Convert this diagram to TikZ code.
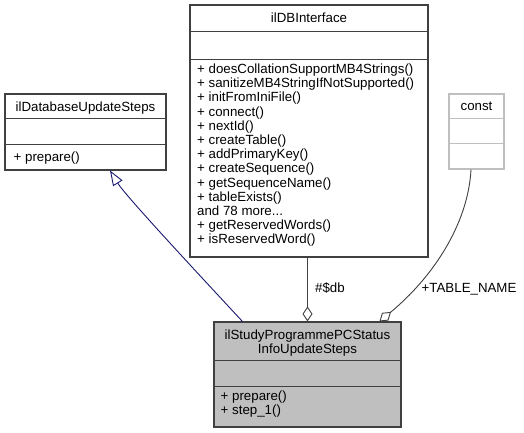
\documentclass[tikz,border=0pt]{standalone}
\usepackage{fontspec}
\setmainfont{Liberation Sans}
\usetikzlibrary{arrows.meta}
\definecolor{edgegray}{HTML}{404040}
\definecolor{boxfill}{HTML}{BFBFBF}
\definecolor{lightborder}{HTML}{BFBFBF}
\definecolor{navyblue}{HTML}{191970}
\newcommand{\threedots}{...}
\begin{document}
\begin{tikzpicture}[x=1pt,y=-1pt,
  box/.style={draw=edgegray, line width=1.1pt, inner sep=0pt, fill=white},
  txt/.style={inner sep=0pt, font=\fontsize{13.3}{14}\selectfont},
  sepline/.style={draw=edgegray, line width=1.1pt},
  edge/.style={draw=edgegray, line width=0.9pt},
  inherit/.style={draw=navyblue, line width=0.9pt},
  agg/.style={-{Diamond[open, length=15pt, width=10pt, line width=0.9pt]}},
]
\useasboundingbox[fill=white] (0,0) rectangle (524,433);

% ilDatabaseUpdateSteps
\node[box, minimum width=161pt, minimum height=76pt] (A) at (85.5,132) {};
\draw[sepline] ([yshift=-25pt]A.north west) -- ([yshift=-25pt]A.north east);
\draw[sepline] ([yshift=-51pt]A.north west) -- ([yshift=-51pt]A.north east);
\node[txt, anchor=base] (At) at (85.5,111) {ilDatabaseUpdateSteps};
\node[txt, anchor=base west] (Am) at (13.5,161.5) {+ prepare()};

% ilDBInterface
\node[box, minimum width=238pt, minimum height=252pt] (B) at (309,131) {};
\draw[sepline] ([yshift=-27pt]B.north west) -- ([yshift=-27pt]B.north east);
\draw[sepline] ([yshift=-55pt]B.north west) -- ([yshift=-55pt]B.north east);
\node[txt, anchor=base] (Bt) at (309,22.5) {ilDBInterface};
\foreach \t [count=\i from 0] in {%
  + doesCollationSupportMB4Strings(),
  + sanitizeMB4StringIfNotSupported(),
  + initFromIniFile(),
  + connect(),
  + nextId(),
  + createTable(),
  + addPrimaryKey(),
  + createSequence(),
  + getSequenceName(),
  + tableExists(),
  and 78 more\threedots,
  + getReservedWords(),
  + isReservedWord()}
  \node[txt, anchor=base west] (Bm\i) at (197,73.5+14.2*\i) {\t};

% const
\node[box, draw=lightborder, minimum width=55pt, minimum height=75pt] (C) at (476.5,131.5) {};
\draw[sepline, draw=lightborder] ([yshift=-25pt]C.north west) -- ([yshift=-25pt]C.north east);
\draw[sepline, draw=lightborder] ([yshift=-50pt]C.north west) -- ([yshift=-50pt]C.north east);
\node[txt, anchor=base] (Ct) at (476.5,110.5) {const};

% ilStudyProgrammePCStatusInfoUpdateSteps
\node[box, fill=boxfill, minimum width=187pt, minimum height=105pt] (D) at (307.5,374.5) {};
\draw[sepline] ([yshift=-39pt]D.north west) -- ([yshift=-39pt]D.north east);
\draw[sepline] ([yshift=-65pt]D.north west) -- ([yshift=-65pt]D.north east);
\node[txt, anchor=base] (Dt1) at (307.5,339.5) {ilStudyProgrammePCStatus};
\node[txt, anchor=base] (Dt2) at (307.5,353.5) {InfoUpdateSteps};
\node[txt, anchor=base west] (Dm1) at (220.5,400.5) {+ prepare()};
\node[txt, anchor=base west] (Dm2) at (220.5,414.5) {+ step\_1()};

% inheritance
\draw[inherit, {Triangle[open, length=15pt, width=11pt, line width=0.9pt]}-]
  ([xshift=24.5pt]A.south) .. controls (125,195) and (190,265) .. ([xshift=29pt]D.north west);

% #$db
\draw[edge, agg] (B.south -| D.north) -- (D.north);
\node[txt, anchor=base west] (L1) at (315,292) {\#\$db};

% +TABLE_NAME
\draw[edge, agg] ([xshift=-5.5pt]C.south) .. controls (468,225) and (432,278) .. ([xshift=166pt]D.north west);
\node[txt, anchor=base west] (L2) at (421.5,292) {+TABLE\_NAME};
\end{tikzpicture}
\end{document}
